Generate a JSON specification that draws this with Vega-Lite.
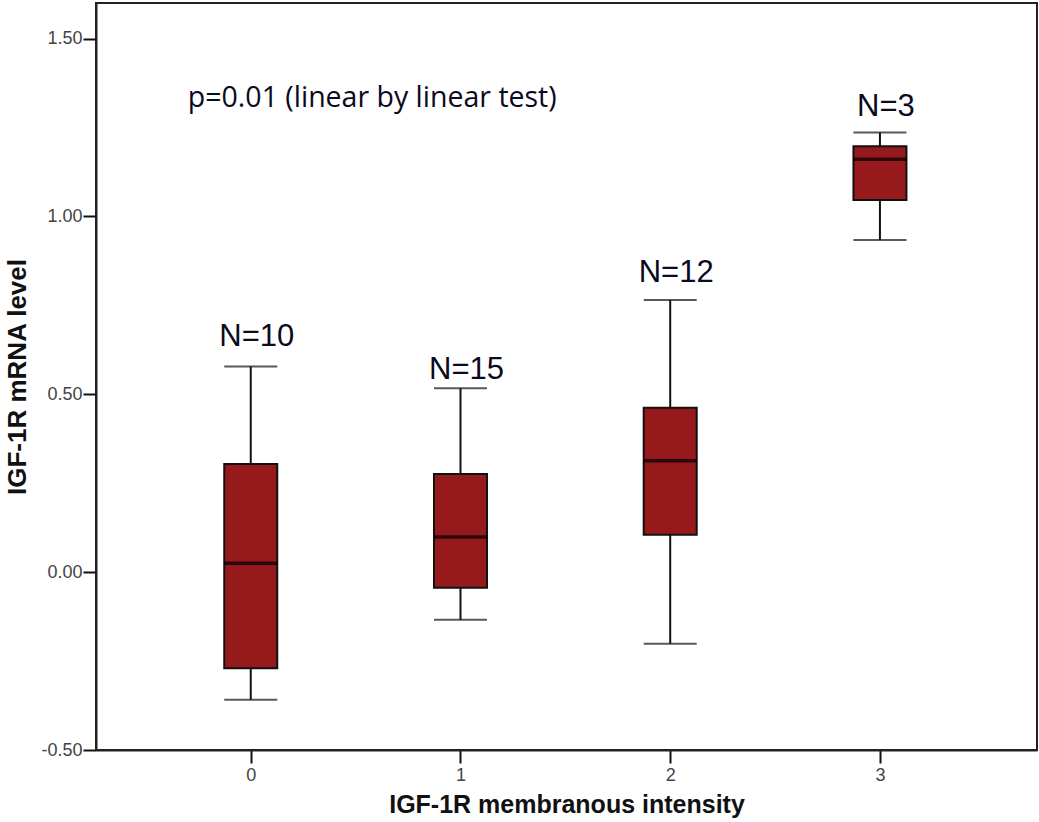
{
  "$schema": "https://vega.github.io/schema/vega-lite/v6.json",
  "autosize": {"type": "none"},
  "width": 941,
  "height": 747,
  "padding": {"left": 96, "top": 3, "right": 2, "bottom": 72},
  "background": "white",
  "config": {
    "view": {"stroke": "#222", "strokeWidth": 2},
    "font": "Liberation Sans",
    "axis": {
      "grid": false, "tickSize": 13, "tickWidth": 2, "tickColor": "#111",
      "domainColor": "#222", "domainWidth": 2,
      "labelFontSize": 18, "labelColor": "#444", "labelFont": "Liberation Sans",
      "titleFontSize": 25, "titleFontWeight": "bold", "titleColor": "#111", "titleFont": "Liberation Sans"
    },
    "axisX": {"labelPadding": 3, "titlePadding": 8},
    "axisY": {"labelPadding": 1, "titlePadding": 10, "titleFontSize": 26}
  },
  "datasets": {
    "boxes": [
      {"intensity": 0, "lo": -0.359, "q1": -0.27, "median": 0.025, "q3": 0.304, "hi": 0.578, "label": "N=10", "labelY": 0.635},
      {"intensity": 1, "lo": -0.134, "q1": -0.044, "median": 0.099, "q3": 0.276, "hi": 0.517, "label": "N=15", "labelY": 0.544},
      {"intensity": 2, "lo": -0.201, "q1": 0.105, "median": 0.313, "q3": 0.462, "hi": 0.765, "label": "N=12", "labelY": 0.816},
      {"intensity": 3, "lo": 0.934, "q1": 1.046, "median": 1.161, "q3": 1.197, "hi": 1.236, "label": "N=3", "labelY": 1.281}
    ],
    "note": [
      {"x": -0.3, "y": 1.309, "text": "p=0.01 (linear by linear test)"}
    ]
  },
  "data": {"name": "boxes"},
  "encoding": {
    "x": {
      "field": "intensity", "type": "quantitative",
      "scale": {"domain": [-0.714, 3.725], "nice": false, "zero": false},
      "axis": {"title": "IGF-1R membranous intensity", "values": [0, 1, 2, 3], "format": "d"}
    }
  },
  "layer": [
    {
      "mark": {"type": "rule", "color": "#111", "strokeWidth": 2},
      "encoding": {
        "y": {
          "field": "lo", "type": "quantitative",
          "scale": {"domain": [-0.5, 1.6], "nice": false, "zero": false},
          "axis": {
            "title": "IGF-1R mRNA level", "values": [-0.5, 0, 0.5, 1, 1.5], "format": ".2f",
            "labelExpr": "replace(datum.label, '\u2212', '-')"
          }
        },
        "y2": {"field": "hi"}
      }
    },
    {
      "mark": {"type": "tick", "orient": "horizontal", "size": 53, "thickness": 2, "color": "#111"},
      "encoding": {"y": {"field": "lo", "type": "quantitative"}}
    },
    {
      "mark": {"type": "tick", "orient": "horizontal", "size": 53, "thickness": 2, "color": "#111"},
      "encoding": {"y": {"field": "hi", "type": "quantitative"}}
    },
    {
      "mark": {"type": "bar", "width": 53, "fill": "#961a1c", "stroke": "#111", "strokeWidth": 2},
      "encoding": {
        "y": {"field": "q1", "type": "quantitative"},
        "y2": {"field": "q3"}
      }
    },
    {
      "mark": {"type": "tick", "orient": "horizontal", "size": 53, "thickness": 3.5, "color": "#000"},
      "encoding": {"y": {"field": "median", "type": "quantitative"}}
    },
    {
      "mark": {"type": "text", "fontSize": 31, "font": "Liberation Sans", "color": "#0a0a20", "baseline": "alphabetic", "align": "center", "dx": 6},
      "encoding": {
        "y": {"field": "labelY", "type": "quantitative"},
        "text": {"field": "label"}
      }
    },
    {
      "data": {"name": "note"},
      "mark": {"type": "text", "fontSize": 28.5, "font": "Open Sans", "color": "#0a0a20", "baseline": "alphabetic", "align": "left"},
      "encoding": {
        "x": {"field": "x", "type": "quantitative"},
        "y": {"field": "y", "type": "quantitative"},
        "text": {"field": "text"}
      }
    }
  ]
}
